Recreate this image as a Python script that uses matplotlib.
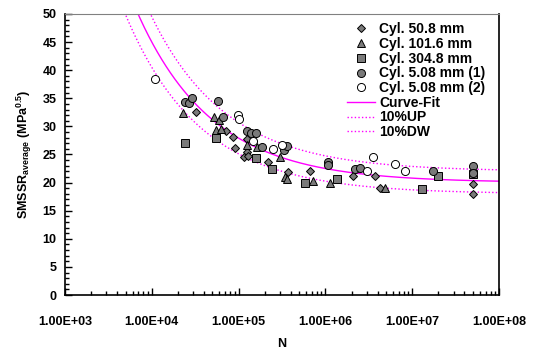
import numpy as np
import matplotlib.pyplot as plt
from matplotlib.ticker import FuncFormatter, MultipleLocator, LogLocator, NullFormatter

plt.rcParams['font.family'] = 'Liberation Sans'
plt.rcParams['font.weight'] = 'bold'
plt.rcParams['mathtext.fontset'] = 'custom'
plt.rcParams['mathtext.rm'] = 'Liberation Sans:bold'
plt.rcParams['mathtext.bf'] = 'Liberation Sans:bold'

# Cyl. 50.8 mm (diamonds)
n_508 = [3.2e4, 7.1e4, 8.7e4, 9.1e4, 1.26e5, 1.24e5, 1.15e5, 1.3e5, 2.2e5,
         3.7e5, 6.6e5, 2.1e6, 3.7e6, 4.2e6, 5e7, 5e7]
s_508 = [32.6, 29.2, 28.1, 26.2, 27.8, 25.4, 24.6, 24.8, 23.7,
         21.9, 22.1, 21.2, 21.2, 19.0, 19.8, 18.0]

# Cyl. 101.6 mm (triangles)
n_1016 = [2.3e4, 5.2e4, 5.9e4, 5.5e4, 6.3e4, 1.26e5, 1.65e5, 3.0e5, 3.4e5,
          3.6e5, 7.2e5, 1.12e6, 4.9e6]
s_1016 = [32.4, 31.7, 31.1, 29.4, 29.5, 26.7, 26.3, 24.6, 21.0,
          20.6, 20.3, 19.9, 19.0]

# Cyl. 304.8 mm (squares)
n_3048 = [2.4e4, 5.5e4, 1.6e5, 2.4e5, 5.8e5, 1.35e6, 1.3e7, 2.0e7, 5e7]
s_3048 = [27.0, 27.9, 24.4, 22.4, 19.9, 20.6, 18.9, 21.2, 21.5]

# Cyl. 5.08 mm (1) (filled circles)
n_c1 = [2.4e4, 2.7e4, 2.9e4, 5.8e4, 6.6e4, 1.26e5, 1.4e5, 1.6e5, 1.86e5,
        3.3e5, 3.6e5, 1.07e6, 1.07e6, 2.2e6, 2.5e6, 1.73e7, 5e7, 5e7]
s_c1 = [34.3, 34.1, 35.0, 34.5, 31.7, 29.2, 28.8, 28.8, 26.3,
        25.8, 26.5, 23.7, 23.1, 22.4, 22.6, 22.1, 23.0, 21.7]

# Cyl. 5.08 mm (2) (open circles)
n_c2 = [1.09e4, 9.8e4, 1.0e5, 1.47e5, 2.5e5, 3.2e5, 3.0e6, 3.5e6, 6.3e6, 8.3e6]
s_c2 = [38.4, 32.0, 31.3, 27.4, 26.0, 26.7, 22.1, 24.6, 23.3, 22.1]

# curve fit  S = a + b / N^c
fit_a, fit_b, fit_c = 20.0, 2500.0, 0.5
n_fit = np.logspace(3, 8, 400)
s_fit = fit_a + fit_b * n_fit ** (-fit_c)

fig = plt.figure(figsize=(5.34, 3.49), dpi=100)
ax = fig.add_axes([0.1217, 0.1547, 0.8128, 0.8053])

mag = '#FF00FF'
ax.plot(n_fit, s_fit, color=mag, lw=1.0, label='Curve-Fit', zorder=2)
ax.plot(n_fit, 1.1 * s_fit, color=mag, lw=1.0, ls=(0, (1, 1.6)), label='10%UP', zorder=2)
ax.plot(n_fit, 0.9 * s_fit, color=mag, lw=1.0, ls=(0, (1, 1.6)), label='10%DW', zorder=2)

kw = dict(color='#7a7a7a', mec='black', mew=0.7, ls='none', zorder=3)
ax.plot(n_508, s_508, marker='D', ms=4.3, label='Cyl. 50.8 mm', **kw)
ax.plot(n_1016, s_1016, marker='^', ms=5.8, label='Cyl. 101.6 mm', **kw)
ax.plot(n_3048, s_3048, marker='s', ms=5.3, label='Cyl. 304.8 mm', **kw)
ax.plot(n_c1, s_c1, marker='o', ms=5.8, label='Cyl. 5.08 mm (1)', **kw)
ax.plot(n_c2, s_c2, marker='o', ms=5.8, ls='none', mfc='white', mec='black',
        mew=0.7, label='Cyl. 5.08 mm (2)', zorder=3)

ax.set_xscale('log')
ax.set_xlim(1e3, 1e8)
ax.set_ylim(0, 50)
ax.yaxis.set_major_locator(MultipleLocator(5))
ax.yaxis.set_minor_locator(MultipleLocator(1))
ax.xaxis.set_major_locator(LogLocator(base=10, numticks=10))
ax.xaxis.set_minor_locator(LogLocator(base=10, subs=np.arange(2, 10), numticks=10))
ax.xaxis.set_minor_formatter(NullFormatter())
ax.xaxis.set_major_formatter(FuncFormatter(lambda v, p: '%.2E' % v))
ax.tick_params(which='both', direction='in', labelsize=9, width=1, color='black')
ax.tick_params(which='major', length=5)
ax.tick_params(which='minor', length=3)
ax.tick_params(axis='x', which='major', pad=15)
ax.tick_params(axis='y', which='major', pad=6)
ax.tick_params(axis='x', which='both', top=False)
ax.tick_params(axis='y', which='both', right=False)
for lab in ax.get_xticklabels() + ax.get_yticklabels():
    lab.set_fontweight('bold')

for sp in ['left', 'bottom', 'right']:
    ax.spines[sp].set_linewidth(1.2)
ax.spines['top'].set_color('#808080')

ax.set_xlabel('N', fontsize=9, fontweight='bold', labelpad=7)
ax.set_ylabel(r'SMSSR$_{\mathrm{average}}$ (MPa$^{\mathrm{0.5}}$)', fontsize=9,
              fontweight='bold', labelpad=6)

handles, labels = ax.get_legend_handles_labels()
order = [3, 4, 5, 6, 7, 0, 1, 2]
ax.legend([handles[i] for i in order], [labels[i] for i in order],
          loc='upper right', bbox_to_anchor=(0.981, 0.99), frameon=False,
          handlelength=2.0, handletextpad=0.3, labelspacing=0.05,
          borderaxespad=0.0, prop={'weight': 'bold', 'size': 10})

fig.savefig('out.png', dpi=100)
